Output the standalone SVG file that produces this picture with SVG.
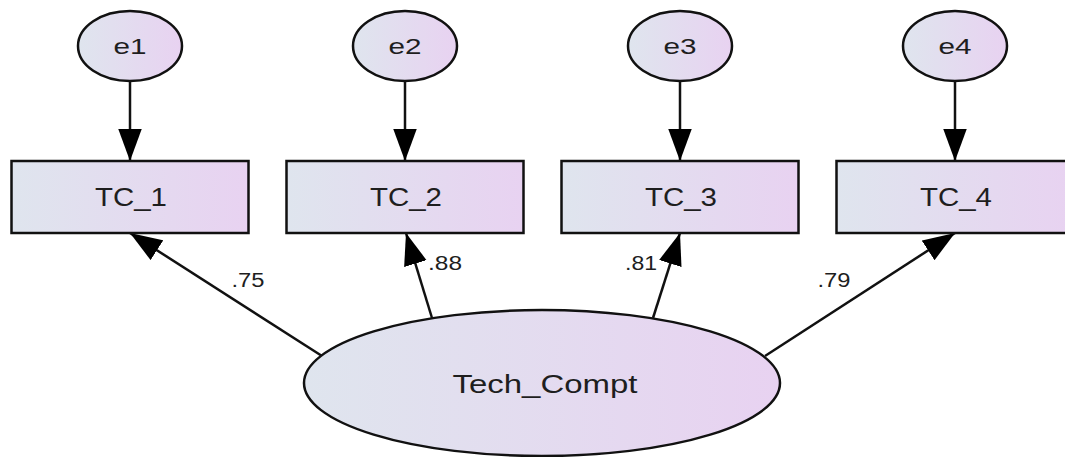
<svg xmlns="http://www.w3.org/2000/svg" width="1065" height="457" viewBox="0 0 1065 457">
  <defs>
    <linearGradient id="fill" x1="0" y1="0" x2="1" y2="0">
      <stop offset="0" stop-color="#dfe5ee"/>
      <stop offset="1" stop-color="#e8d2f1"/>
    </linearGradient>
    <marker id="arr" markerUnits="userSpaceOnUse" markerWidth="32" markerHeight="24" viewBox="0 0 30 22" refX="30" refY="11" orient="auto">
      <path d="M0,0 L30,11 L0,22 Z" fill="#000"/>
    </marker>
    <style>
      .node { fill: url(#fill); stroke: #111; stroke-width: 2.5; }
      .lbl { font-family: "Liberation Sans", Arial, sans-serif; fill: #1e1e1e; text-anchor: middle; }
      .conn { stroke: #111; stroke-width: 2.5; fill: none; marker-end: url(#arr); }
      .coef { font-family: "Liberation Sans", Arial, sans-serif; fill: #1e1e1e; font-size: 20px; text-anchor: middle; }
    </style>
  </defs>
  <rect width="1065" height="457" fill="#fff"/>

  <g id="connectors">
    <line class="conn" x1="130" y1="81" x2="130" y2="161"/>
    <line class="conn" x1="405" y1="81" x2="405" y2="161"/>
    <line class="conn" x1="680" y1="81" x2="680" y2="161"/>
    <line class="conn" x1="955" y1="81" x2="955" y2="161"/>
    <line class="conn" x1="322" y1="356" x2="130" y2="233"/>
    <line class="conn" x1="432" y1="318" x2="406" y2="233"/>
    <line class="conn" x1="653" y1="318" x2="680" y2="233"/>
    <line class="conn" x1="765" y1="356" x2="955" y2="233"/>
    <text class="coef" x="248" y="287" textLength="33" lengthAdjust="spacingAndGlyphs">.75</text>
    <text class="coef" x="445" y="270" textLength="34" lengthAdjust="spacingAndGlyphs">.88</text>
    <text class="coef" x="641" y="270" textLength="32" lengthAdjust="spacingAndGlyphs">.81</text>
    <text class="coef" x="834" y="287" textLength="33" lengthAdjust="spacingAndGlyphs">.79</text>
  </g>

  <g id="e1">
    <ellipse class="node" cx="130" cy="46" rx="52" ry="35"/>
    <text class="lbl" x="130" y="54" font-size="22" textLength="33" lengthAdjust="spacingAndGlyphs">e1</text>
  </g>
  <g id="e2">
    <ellipse class="node" cx="405" cy="46" rx="52" ry="35"/>
    <text class="lbl" x="405" y="54" font-size="22" textLength="33" lengthAdjust="spacingAndGlyphs">e2</text>
  </g>
  <g id="e3">
    <ellipse class="node" cx="680" cy="46" rx="52" ry="35"/>
    <text class="lbl" x="680" y="54" font-size="22" textLength="33" lengthAdjust="spacingAndGlyphs">e3</text>
  </g>
  <g id="e4">
    <ellipse class="node" cx="955" cy="46" rx="52" ry="35"/>
    <text class="lbl" x="955" y="54" font-size="22" textLength="33" lengthAdjust="spacingAndGlyphs">e4</text>
  </g>

  <g id="TC_1">
    <rect class="node" x="11.5" y="161" width="237" height="72"/>
    <text class="lbl" x="131" y="206" font-size="25" textLength="72" lengthAdjust="spacingAndGlyphs">TC_1</text>
  </g>
  <g id="TC_2">
    <rect class="node" x="286.5" y="161" width="237" height="72"/>
    <text class="lbl" x="406" y="206" font-size="25" textLength="72" lengthAdjust="spacingAndGlyphs">TC_2</text>
  </g>
  <g id="TC_3">
    <rect class="node" x="561.5" y="161" width="237" height="72"/>
    <text class="lbl" x="681" y="206" font-size="25" textLength="72" lengthAdjust="spacingAndGlyphs">TC_3</text>
  </g>
  <g id="TC_4">
    <rect class="node" x="836.5" y="161" width="237" height="72"/>
    <text class="lbl" x="956" y="206" font-size="25" textLength="72" lengthAdjust="spacingAndGlyphs">TC_4</text>
  </g>

  <g id="Tech_Compt">
    <ellipse class="node" cx="542" cy="383" rx="238" ry="73"/>
    <text class="lbl" x="545" y="393" font-size="25" textLength="185" lengthAdjust="spacingAndGlyphs">Tech_Compt</text>
  </g>
</svg>
